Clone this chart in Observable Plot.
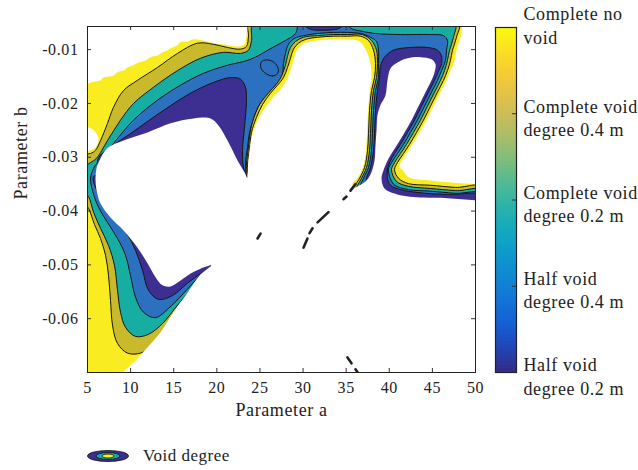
<!DOCTYPE html>
<html>
<head>
<meta charset="utf-8">
<script src="https://cdn.jsdelivr.net/npm/d3@7"></script>
<script src="https://cdn.jsdelivr.net/npm/@observablehq/plot@0.6"></script>
<style>
  body { margin: 0; background: #fff; }
  #chart { position: relative; width: 638px; height: 470px; font-family: "Liberation Serif", serif; color: #222; }
  #main { position: absolute; left: 0; top: 0; }
  #bar { position: absolute; left: 480px; top: 0; }
  #legend { position: absolute; left: 86px; top: 448px; height: 16px; display: flex; align-items: center; gap: 13px; font-size: 17px; letter-spacing: 0.5px; line-height: 16px; }
</style>
</head>
<body>
<div id="chart"><div id="main"></div><div id="bar"></div><div id="legend"></div></div>
<script>
// Axis ticks
const xTicks = [5, 10, 15, 20, 25, 30, 35, 40, 45, 50];
const yTicks = [-0.06, -0.05, -0.04, -0.03, -0.02, -0.01];

// Colour bar ticks and their labels (normalised level, bottom = 0)
const barTickValues = [1, 0.75, 0.5, 0.25, 0];
const barTickLabels = [
  "Complete no\nvoid",
  "Complete void\ndegree 0.4 m",
  "Complete void\ndegree 0.2 m",
  "Half void\ndegree 0.4 m",
  "Half void\ndegree 0.2 m"
];

// Regions with no result (parameter a, parameter b)
const voidTopLeft = [[4.19,-0.0046],[4.19,-0.0163],[5.12,-0.0163],[5.35,-0.0161],[6.51,-0.0157],[6.86,-0.0152],[8.02,-0.0148],[8.48,-0.0142],[9.18,-0.0139],[9.64,-0.0133],[10.34,-0.0129],[10.91,-0.0124],[11.73,-0.0120],[12.31,-0.0114],[13.12,-0.0111],[13.70,-0.0105],[14.28,-0.0101],[14.86,-0.0096],[15.44,-0.0092],[15.79,-0.0086],[16.60,-0.0085],[17.18,-0.0081],[18.92,-0.0085],[19.61,-0.0088],[20.66,-0.0090],[22.51,-0.0094],[23.21,-0.0090],[23.44,-0.0073],[23.56,-0.0057],[23.56,-0.0046]];
const voidPocket = [[4.19,-0.0245],[5.35,-0.0246],[6.04,-0.0256],[6.28,-0.0269],[5.93,-0.0282],[5.12,-0.0288],[4.19,-0.0288]];
const voidUpperRight = [[48.84,-0.0046],[48.26,-0.0077],[47.80,-0.0101],[47.57,-0.0120],[47.10,-0.0139],[46.64,-0.0157],[45.94,-0.0179],[45.13,-0.0205],[44.32,-0.0231],[43.51,-0.0254],[42.69,-0.0276],[42.00,-0.0293],[41.42,-0.0308],[41.19,-0.0317],[41.65,-0.0326],[42.23,-0.0337],[44.78,-0.0343],[47.10,-0.0347],[49.42,-0.0349],[51.74,-0.0349],[51.74,-0.0046]];
const voidCentral = [
  [8.83,-0.0724],[9.18,-0.0700],[10.57,-0.0678],[11.96,-0.0653],[13.47,-0.0625],[14.97,-0.0588],[16.37,-0.0557],[18.11,-0.0518],[18.92,-0.0507],[19.38,-0.0501],
  [18.11,-0.0507],[16.95,-0.0516],[15.79,-0.0529],[14.63,-0.0540],[13.70,-0.0538],[12.89,-0.0523],[11.96,-0.0497],[10.80,-0.0468],[9.18,-0.0436],[7.67,-0.0412],[6.51,-0.0386],[6.04,-0.0361],[5.93,-0.0339],[6.04,-0.0321],
  [6.39,-0.0306],[7.32,-0.0283],[9.18,-0.0269],[11.96,-0.0254],[14.63,-0.0237],[17.29,-0.0228],[19.27,-0.0228],[20.19,-0.0241],[21.24,-0.0269],[22.40,-0.0306],[23.21,-0.0328],[23.56,-0.0339],
  [23.62,-0.0315],[23.80,-0.0287],[24.10,-0.0259],[24.70,-0.0233],[25.55,-0.0209],[26.50,-0.0189],[27.38,-0.0174],[28.08,-0.0157],[28.54,-0.0139],[28.89,-0.0120],[29.24,-0.0103],[29.94,-0.0090],[31.68,-0.0083],[33.53,-0.0081],[35.15,-0.0081],[36.31,-0.0083],[36.89,-0.0090],[37.48,-0.0107],[37.82,-0.0126],[37.94,-0.0152],[37.75,-0.0176],[37.55,-0.0213],[37.42,-0.0256],[37.30,-0.0287],[36.95,-0.0319],[36.31,-0.0338],[35.73,-0.0349],
  [35.97,-0.0356],[36.55,-0.0352],[37.24,-0.0345],[37.82,-0.0332],[38.29,-0.0306],[38.40,-0.0278],[38.52,-0.0250],[38.63,-0.0222],[38.98,-0.0203],[39.56,-0.0185],[39.79,-0.0157],[40.14,-0.0135],[40.95,-0.0124],[42.11,-0.0116],[43.62,-0.0114],[44.90,-0.0118],[45.36,-0.0127],[45.25,-0.0142],[44.90,-0.0157],[44.20,-0.0179],[43.39,-0.0205],[42.58,-0.0231],[41.77,-0.0254],[40.95,-0.0276],[40.26,-0.0293],[39.68,-0.0310],[39.33,-0.0324],[39.10,-0.0339],[39.45,-0.0358],[40.95,-0.0369],[43.97,-0.0375],[46.75,-0.0376],[50.23,-0.0380],[51.74,-0.0380],[51.74,-0.0724]
];

// Filled contour levels, from "complete void 0.4 m" inwards
const levelOlive = [
  [18.92,-0.0510],[18.11,-0.0529],[16.71,-0.0562],[15.21,-0.0599],[13.81,-0.0629],[12.54,-0.0650],[11.15,-0.0664],[9.64,-0.0664],[8.48,-0.0646],[7.90,-0.0612],[7.67,-0.0566],[7.44,-0.0520],[7.09,-0.0482],[6.51,-0.0451],[5.81,-0.0425],[5.12,-0.0395],[4.42,-0.0380],[4.42,-0.0296],[5.35,-0.0293],[5.93,-0.0287],[6.51,-0.0269],[7.32,-0.0237],[8.02,-0.0207],[9.18,-0.0176],[10.80,-0.0157],[13.12,-0.0133],[15.44,-0.0107],[17.76,-0.0088],[19.61,-0.0090],[21.24,-0.0096],[22.74,-0.0099],[23.44,-0.0094],[23.67,-0.0075],[23.79,-0.0046],
  [48.03,-0.0046],[47.80,-0.0077],[47.33,-0.0101],[47.10,-0.0120],[46.75,-0.0139],[46.29,-0.0157],[45.59,-0.0179],[44.78,-0.0205],[43.97,-0.0231],[43.16,-0.0254],[42.35,-0.0276],[41.65,-0.0293],[40.95,-0.0310],[40.61,-0.0323],[41.07,-0.0339],[42.23,-0.0349],[44.78,-0.0352],[47.68,-0.0356],[51.74,-0.0358],
  [51.74,-0.0724],[29.70,-0.0724],
  [35.73,-0.0362],[36.55,-0.0339],[37.13,-0.0319],[37.48,-0.0287],[37.59,-0.0256],[37.71,-0.0213],[37.94,-0.0176],[38.29,-0.0152],[38.40,-0.0126],[38.17,-0.0101],[37.59,-0.0083],[36.66,-0.0075],[35.15,-0.0075],[33.53,-0.0075],[31.68,-0.0077],[30.28,-0.0081],[29.47,-0.0088],[28.89,-0.0099],[28.54,-0.0116],[28.20,-0.0133],[27.73,-0.0152],[27.04,-0.0166],[26.22,-0.0181],[25.30,-0.0202],[24.60,-0.0226],[24.02,-0.0254],[23.79,-0.0284],[23.56,-0.0313],[23.44,-0.0335],
  [21.59,-0.0408],[19.27,-0.0495]
];
const levelTeal = [
  [18.80,-0.0510],[17.18,-0.0542],[15.44,-0.0575],[13.70,-0.0609],[12.07,-0.0629],[10.57,-0.0633],[9.41,-0.0616],[8.83,-0.0588],[8.48,-0.0547],[8.13,-0.0501],[7.44,-0.0464],[6.51,-0.0432],[5.70,-0.0402],[5.12,-0.0373],[4.42,-0.0362],[4.42,-0.0321],[5.35,-0.0310],[6.04,-0.0302],[7.32,-0.0269],[8.83,-0.0231],[10.34,-0.0200],[12.65,-0.0170],[15.44,-0.0139],[18.11,-0.0116],[20.77,-0.0105],[22.74,-0.0107],[23.67,-0.0101],[24.02,-0.0083],[24.37,-0.0046],
  [47.57,-0.0046],[47.45,-0.0077],[46.99,-0.0101],[46.75,-0.0120],[46.41,-0.0139],[45.94,-0.0157],[45.25,-0.0179],[44.43,-0.0205],[43.62,-0.0231],[42.81,-0.0254],[42.00,-0.0276],[41.30,-0.0293],[40.61,-0.0310],[40.26,-0.0323],[40.84,-0.0345],[42.23,-0.0354],[44.78,-0.0358],[47.68,-0.0362],[51.74,-0.0365],
  [51.74,-0.0724],[29.70,-0.0724],
  [35.97,-0.0365],[36.78,-0.0339],[37.36,-0.0319],[37.71,-0.0287],[37.82,-0.0256],[37.94,-0.0213],[38.17,-0.0176],[38.52,-0.0152],[38.63,-0.0126],[38.52,-0.0101],[37.94,-0.0083],[36.89,-0.0072],[35.15,-0.0072],[33.53,-0.0072],[31.68,-0.0074],[30.05,-0.0077],[29.12,-0.0085],[28.54,-0.0096],[28.20,-0.0112],[27.96,-0.0129],[27.50,-0.0148],[26.80,-0.0163],[25.99,-0.0177],[25.07,-0.0198],[24.37,-0.0222],[23.90,-0.0250],[23.67,-0.0282],[23.44,-0.0311],[23.32,-0.0334],
  [21.59,-0.0408],[19.15,-0.0497]
];
const levelBlue = [
  [18.92,-0.0508],[17.87,-0.0523],[16.13,-0.0553],[14.39,-0.0581],[12.89,-0.0598],[11.49,-0.0588],[10.57,-0.0560],[9.99,-0.0520],[9.41,-0.0482],[8.48,-0.0451],[7.32,-0.0421],[6.28,-0.0393],[5.58,-0.0362],[5.35,-0.0339],[5.70,-0.0321],[6.16,-0.0310],
  [8.02,-0.0274],[10.34,-0.0231],[13.12,-0.0194],[15.79,-0.0166],[18.45,-0.0144],[21.24,-0.0129],[23.56,-0.0120],[24.83,-0.0111],[26.46,-0.0096],[27.96,-0.0083],[29.12,-0.0070],[29.70,-0.0046],[34.92,-0.0046],[35.50,-0.0060],[36.89,-0.0066],[38.40,-0.0070],[41.30,-0.0072],[44.78,-0.0072],[46.29,-0.0074],[46.75,-0.0083],[46.64,-0.0101],[46.52,-0.0120],[46.06,-0.0139],[45.59,-0.0157],[44.90,-0.0179],[44.09,-0.0205],[43.27,-0.0231],[42.46,-0.0254],[41.65,-0.0276],[40.95,-0.0293],[40.26,-0.0310],[39.91,-0.0323],[40.49,-0.0350],[42.23,-0.0360],[44.78,-0.0363],[47.68,-0.0367],[51.74,-0.0371],
  [51.74,-0.0724],[29.70,-0.0724],
  [36.31,-0.0365],[37.01,-0.0339],[37.59,-0.0319],[37.94,-0.0287],[38.05,-0.0256],[38.17,-0.0213],[38.40,-0.0176],[38.75,-0.0152],[38.75,-0.0126],[38.75,-0.0101],[38.52,-0.0085],[37.82,-0.0077],[36.66,-0.0070],[35.15,-0.0068],[33.53,-0.0068],[31.68,-0.0070],[30.05,-0.0074],[29.01,-0.0079],[28.31,-0.0090],[27.96,-0.0107],[27.73,-0.0126],[27.62,-0.0144],[27.15,-0.0159],[26.46,-0.0172],[25.64,-0.0187],[24.83,-0.0205],[24.25,-0.0228],[23.79,-0.0254],[23.56,-0.0282],[23.32,-0.0310],[23.32,-0.0334],
  [21.59,-0.0408],[19.15,-0.0499]
];
const indigoLowerArm = [[5.70,-0.0336],[6.16,-0.0365],[6.74,-0.0386],[8.02,-0.0414],[9.52,-0.0441],[10.57,-0.0473],[11.38,-0.0510],[12.07,-0.0547],[13.23,-0.0564],[14.86,-0.0557],[16.60,-0.0534],[18.11,-0.0516],[19.27,-0.0503],[18.11,-0.0473],[12.31,-0.0399],[7.67,-0.0339]];
const indigoUpperArm = [[6.16,-0.0310],[6.51,-0.0296],[9.99,-0.0256],[13.81,-0.0213],[16.95,-0.0181],[19.61,-0.0161],[21.59,-0.0152],[22.74,-0.0155],[23.32,-0.0170],[23.44,-0.0194],[23.21,-0.0244],[22.98,-0.0287],[23.09,-0.0319],[23.44,-0.0339],[21.59,-0.0352],[12.31,-0.0287],[7.20,-0.0315]];
const indigoTop = [[30.05,-0.0046],[30.40,-0.0058],[31.10,-0.0063],[32.26,-0.0064],[33.53,-0.0063],[34.34,-0.0059],[34.92,-0.0046]];
const indigoRight = [[37.13,-0.0436],[37.13,-0.0380],[37.36,-0.0339],[37.82,-0.0319],[38.17,-0.0287],[38.29,-0.0256],[38.40,-0.0213],[38.63,-0.0176],[38.87,-0.0152],[38.98,-0.0131],[39.45,-0.0114],[40.49,-0.0101],[42.46,-0.0096],[44.43,-0.0096],[45.59,-0.0101],[46.06,-0.0112],[46.06,-0.0126],[45.71,-0.0140],[45.25,-0.0157],[44.55,-0.0179],[43.74,-0.0205],[42.93,-0.0231],[42.11,-0.0254],[41.30,-0.0276],[40.61,-0.0293],[40.03,-0.0310],[39.79,-0.0324],[39.79,-0.0339],[40.14,-0.0352],[41.30,-0.0360],[44.20,-0.0367],[46.87,-0.0369],[51.74,-0.0373],[51.74,-0.0436]];
const closedContour = [[27.06,-0.0144],[26.46,-0.0149],[25.64,-0.0144],[25.11,-0.0134],[25.16,-0.0123],[25.76,-0.0119],[26.57,-0.0123],[27.10,-0.0134]];

// Isolated contour fragments
const fragments = [
  [[24.72,-0.0451],[25.07,-0.0442]],
  [[30.05,-0.0468],[30.51,-0.0451]],
  [[30.75,-0.0441],[31.10,-0.0432]],
  [[31.68,-0.0421],[32.95,-0.0402]],
  [[34.69,-0.0378],[35.04,-0.0373]],
  [[35.50,-0.0362],[36.08,-0.0350]],
  [[35.15,-0.0672],[35.62,-0.0683]],
  [[36.08,-0.0694],[36.43,-0.0702]]
];

const colors = { yellow: "#f9ec20", olive: "#c9ba2c", teal: "#16ada3", blue: "#2c71c0", indigo: "#3c2f91", line: "#151515" };
const parulaStops = ["#352a87", "#0f5cdd", "#1481d6", "#06a4ca", "#2eb7a4", "#87bf77", "#d1bb59", "#fec832", "#f9fb0e"];
const parula = d3.interpolateRgbBasis(parulaStops);

const toRows = (polys) => polys.flatMap((p, id) => p.map(([a, b]) => ({ a, b, id })));
const region = (polys, fill, stroke = colors.line) =>
  Plot.line(toRows(polys), { x: "a", y: "b", z: "id", fill, stroke, strokeWidth: 1, curve: "catmull-rom-closed", clip: true });

const font = '"Liberation Serif", serif';

const main = Plot.plot({
  width: 638,
  height: 430,
  marginLeft: 87,
  marginRight: 163,
  marginTop: 26,
  marginBottom: 58,
  x: { domain: [5, 50] },
  y: { domain: [-0.07, -0.0057] },
  style: { fontFamily: font, fontSize: "16px", color: "#222", background: "white", letterSpacing: "0.6px" },
  marks: [
    Plot.frame({ fill: colors.yellow, stroke: "none" }),
    region([levelOlive], colors.olive),
    region([levelTeal], colors.teal),
    region([levelBlue], colors.blue),
    region([indigoLowerArm, indigoUpperArm, indigoTop, indigoRight], colors.indigo),
    region([closedContour], colors.blue),
    region([voidTopLeft, voidPocket, voidUpperRight, voidCentral], "white", "none"),
    Plot.line(toRows(fragments), { x: "a", y: "b", z: "id", stroke: "#222", strokeWidth: 2.6, strokeLinecap: "round", clip: true }),
    Plot.ruleX(xTicks, { x: d => d, insetTop: 342, stroke: "#333" }),
    Plot.ruleX(xTicks, { x: d => d, insetBottom: 342, stroke: "#333" }),
    Plot.ruleY(yTicks, { y: d => d, insetRight: 384, stroke: "#333" }),
    Plot.ruleY(yTicks, { y: d => d, insetLeft: 384, stroke: "#333" }),
    Plot.frame({ stroke: "#222", strokeWidth: 1 }),
    Plot.axisX(xTicks, { tickSize: 0, tickPadding: 9, label: null, fontSize: 16, fill: "#222" }),
    Plot.axisY(yTicks, { tickSize: 0, tickPadding: 9, label: null, fontSize: 16, fill: "#222", tickFormat: d => d.toFixed(2) }),
    Plot.text(["Parameter a"], { text: d => d, frameAnchor: "bottom", dy: 43, fontSize: 18, fill: "#222" }),
    Plot.text(["Parameter b"], { text: d => d, frameAnchor: "left", rotate: -90, dx: -66, fontSize: 18, fill: "#222" })
  ]
});
document.getElementById("main").append(main);

// Colour bar
const step = 0.01;
const ramp = d3.range(0, 1, step);
const barText = { x: 1, y: d => d, text: (d) => barTickLabels[barTickValues.indexOf(d)], dx: 7, textAnchor: "start", lineHeight: 1.3, fontSize: 18, fill: "#222" };
const bar = Plot.plot({
  width: 158,
  height: 400,
  marginLeft: 15,
  marginRight: 122,
  marginTop: 27,
  marginBottom: 28,
  x: { domain: [0, 1], axis: null },
  y: { domain: [0, 1], axis: null },
  style: { fontFamily: font, color: "#222", overflow: "visible", letterSpacing: "0.6px" },
  marks: [
    Plot.rect(ramp, { x1: 0, x2: 1, y1: d => d, y2: d => Math.min(1, d + step * 1.6), fill: d => parula(d + step / 2) }),
    Plot.ruleY([0.25, 0.5, 0.75], { y: d => d, insetLeft: 17, stroke: "#333" }),
    Plot.frame({ stroke: "#222", strokeWidth: 1.2 }),
    Plot.text(barTickValues.slice(0, 1), { ...barText, dy: -3 }),
    Plot.text(barTickValues.slice(1), { ...barText, dy: 3 })
  ]
});
document.getElementById("bar").append(bar);

// Legend swatch: nested contour rings
const legend = document.getElementById("legend");
const swatch = d3.create("svg").attr("width", 44).attr("height", 14);
[[20.5, 5.5, colors.indigo], [12, 3.4, colors.teal], [6, 2, colors.yellow]].forEach(([rx, ry, c]) => {
  swatch.append("ellipse").attr("cx", 22).attr("cy", 7).attr("rx", rx).attr("ry", ry)
    .attr("fill", c).attr("stroke", "#111").attr("stroke-width", 0.8);
});
legend.append(swatch.node());
const label = document.createElement("span");
label.textContent = "Void degree";
legend.append(label);
</script>
</body>
</html>
